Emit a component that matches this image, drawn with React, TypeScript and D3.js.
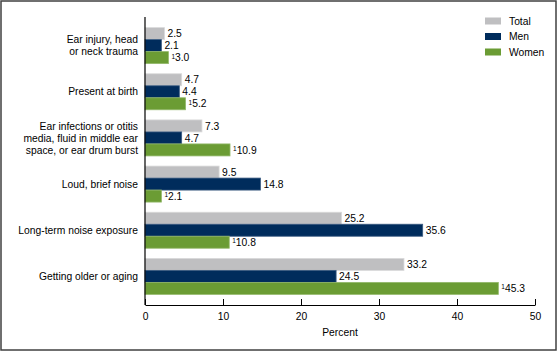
import React, { useEffect, useRef } from 'react';
import * as d3 from 'd3';

const categories = [
  'Ear injury, head|or neck trauma',
  'Present at birth',
  'Ear infections or otitis|media, fluid in middle ear|space, or ear drum burst',
  'Loud, brief noise',
  'Long-term noise exposure',
  'Getting older or aging',
];
const totalValues = [2.5, 4.7, 7.3, 9.5, 25.2, 33.2];
const menValues = [2.1, 4.4, 4.7, 14.8, 35.6, 24.5];
const womenValues = [3.0, 5.2, 10.9, 2.1, 10.8, 45.3];
const seriesNames = ['Total', 'Men', 'Women'];
const seriesColors = ['#bfbfc1', '#002c5c', '#6b9c34'];
const seriesStrokes = ['#d9d9da', '#3a5a80', '#93b86a'];
const xTicks = [0, 10, 20, 30, 40, 50];

const W = 560;
const H = 351;
const FONT = '"Liberation Sans", Arial, sans-serif';
const FS = '10.3px';

const App: React.FC = () => {
  const svgRef = useRef<SVGSVGElement | null>(null);

  useEffect(() => {
    if (!svgRef.current) return;
    const svg = d3.select(svgRef.current);
    svg.selectAll('*').remove();

    const x = d3.scaleLinear().domain([0, 50]).range([145, 535]);
    const y = d3.scaleBand<number>()
      .domain(d3.range(categories.length))
      .range([17, 305])
      .paddingInner(0.22)
      .paddingOuter(0.23);
    const inner = d3.scaleBand<number>()
      .domain([0, 1, 2])
      .range([0, y.bandwidth()]);

    // frame
    svg.append('rect')
      .attr('x', 1).attr('y', 1)
      .attr('width', 555).attr('height', 349)
      .attr('fill', '#fff')
      .attr('stroke', '#404040')
      .attr('stroke-width', 1.5);

    const series = [totalValues, menValues, womenValues];

    const groups = svg.append('g')
      .selectAll('g')
      .data(categories)
      .join('g')
      .attr('transform', (_, i) => `translate(0,${y(i)})`);

    series.forEach((vals, s) => {
      groups.append('rect')
        .attr('x', x(0))
        .attr('y', inner(s) as number)
        .attr('width', (_, i) => x(vals[i]) - x(0))
        .attr('height', inner.bandwidth())
        .attr('fill', seriesColors[s])
        .attr('stroke', seriesStrokes[s])
        .attr('stroke-width', 0.8);

      const lbl = groups.append('text')
        .attr('x', (_, i) => x(vals[i]) + 3)
        .attr('y', (inner(s) as number) + inner.bandwidth() / 2 + 3.7)
        .style('font', `${FS} ${FONT}`)
        .attr('fill', '#000');
      if (s === 2) {
        lbl.append('tspan')
          .style('font-size', '6.5px')
          .attr('dy', -2.6)
          .text('1');
        lbl.append('tspan')
          .attr('dy', 2.6)
          .text((_, i) => vals[i].toFixed(1));
      } else {
        lbl.text((_, i) => vals[i].toFixed(1));
      }
    });

    // category labels
    groups.each(function (d) {
      const lines = d.split('|');
      const t = d3.select(this).append('text')
        .attr('text-anchor', 'end')
        .style('font', `${FS} ${FONT}`)
        .attr('fill', '#000');
      const mid = y.bandwidth() / 2;
      lines.forEach((line, k) => {
        t.append('tspan')
          .attr('x', 138)
          .attr('y', mid + (k - (lines.length - 1) / 2) * 12 + 3.7)
          .text(line);
      });
    });

    // x axis
    const axis = svg.append('g')
      .attr('transform', 'translate(0,305)')
      .call(d3.axisBottom(x).tickValues(xTicks).tickSizeInner(-6).tickSizeOuter(0).tickPadding(8));
    axis.select('.domain').attr('stroke', '#000').attr('stroke-width', 1.2);
    axis.selectAll('.tick line').attr('stroke', '#000');
    axis.selectAll('.tick text')
      .style('font', `${FS} ${FONT}`)
      .attr('fill', '#000');

    // y axis line
    svg.append('line')
      .attr('x1', x(0)).attr('x2', x(0))
      .attr('y1', 17).attr('y2', 305)
      .attr('stroke', '#000')
      .attr('stroke-width', 1.2);

    svg.append('text')
      .attr('x', (x(0) + x(50)) / 2)
      .attr('y', 336)
      .attr('text-anchor', 'middle')
      .style('font', `${FS} ${FONT}`)
      .text('Percent');

    // legend
    const legend = svg.append('g')
      .selectAll('g')
      .data(seriesNames)
      .join('g')
      .attr('transform', (_, i) => `translate(485,${17.5 + i * 15.5})`);
    legend.append('rect')
      .attr('width', 16)
      .attr('height', 7)
      .attr('fill', (_, i) => seriesColors[i]);
    legend.append('text')
      .attr('x', 24)
      .attr('y', 7.2)
      .style('font', `${FS} ${FONT}`)
      .text((d) => d);

    return () => { svg.selectAll('*').remove(); };
  }, []);

  return (
    <svg
      ref={svgRef}
      width={W}
      height={H}
      style={{ position: 'absolute', left: 0, top: 0, background: '#fff' }}
    />
  );
};

export default App;
